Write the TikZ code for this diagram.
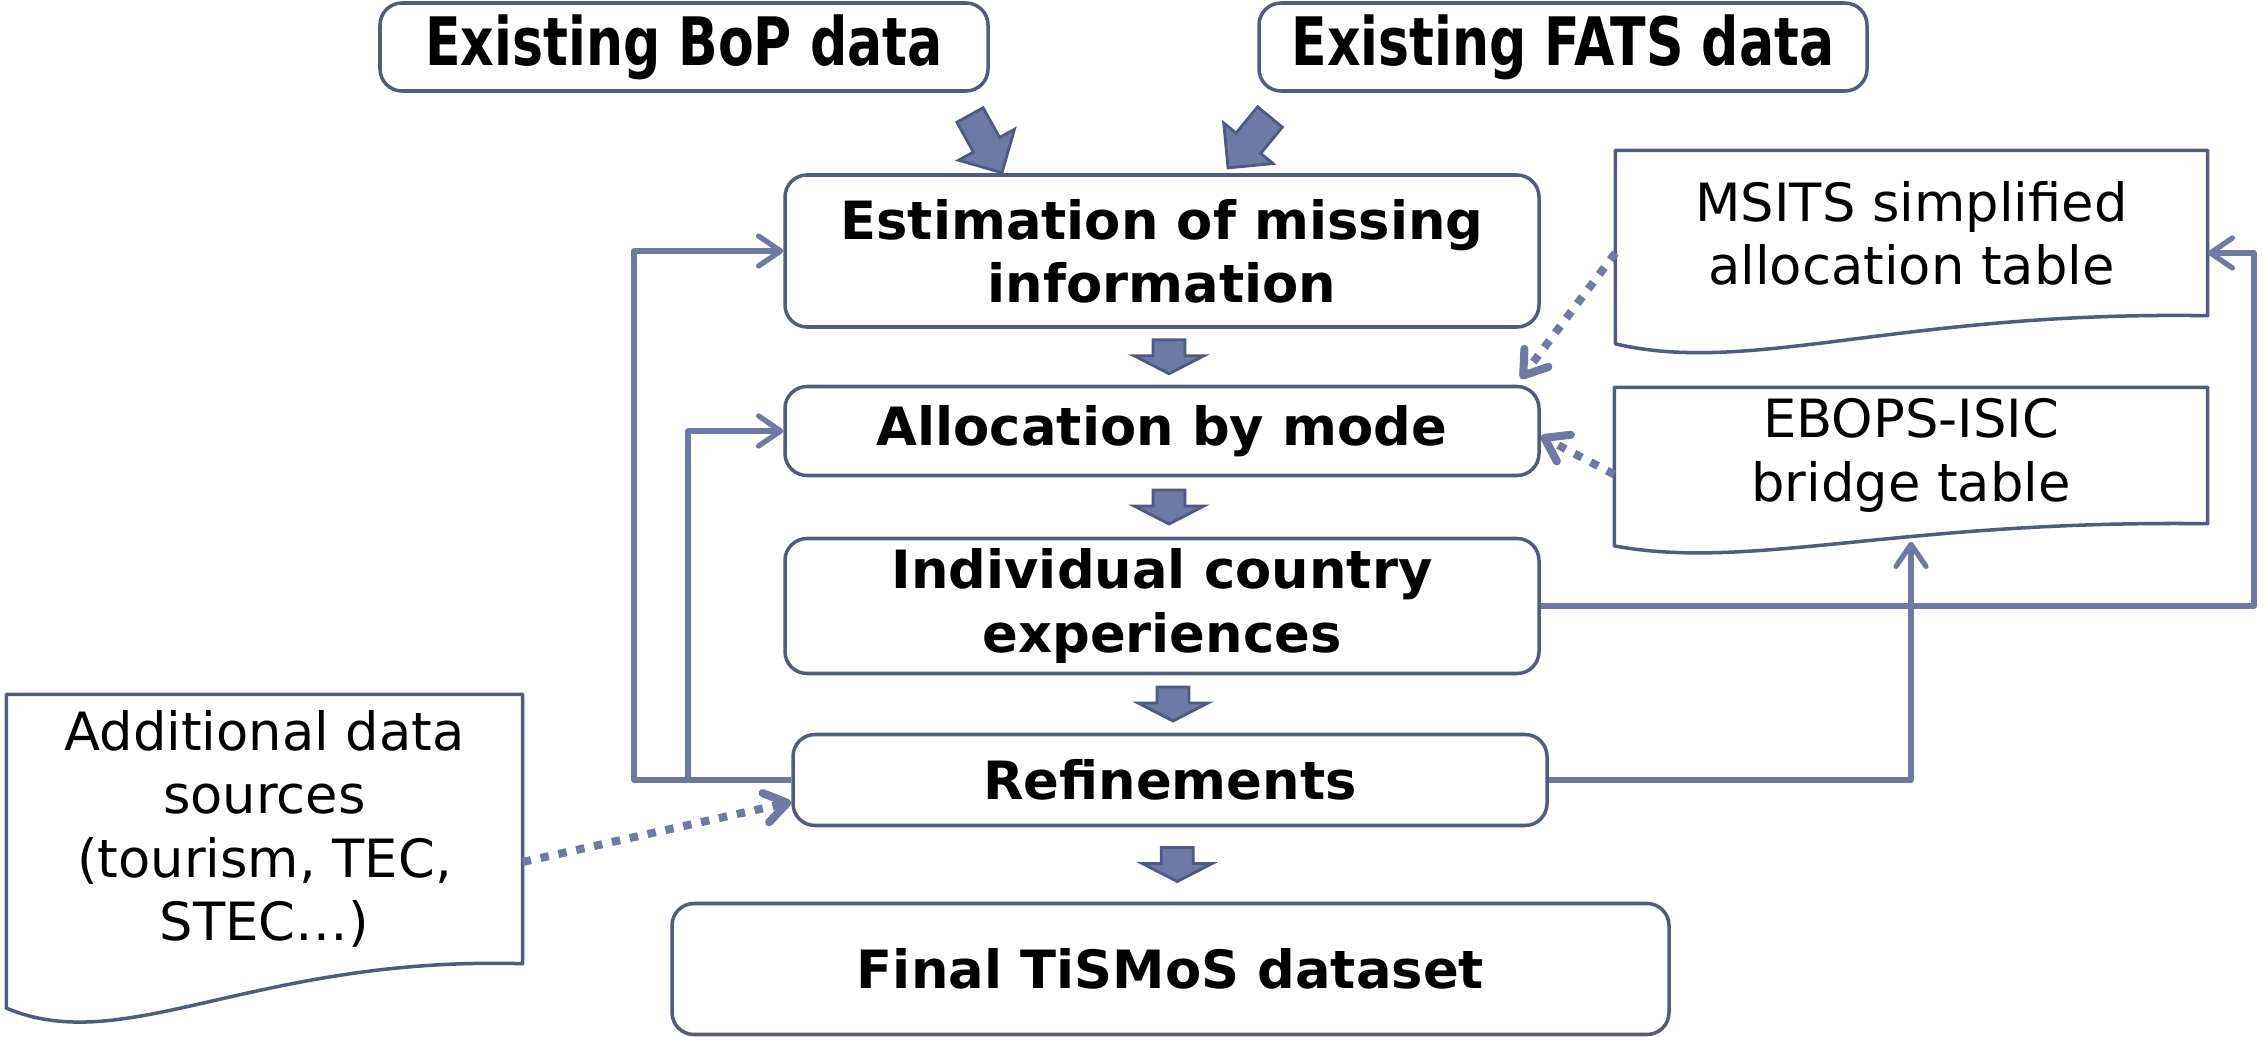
\documentclass[tikz,border=0pt]{standalone}
\usepackage{fontspec}
\setmainfont{DejaVu Sans}
\newfontfamily\topfont{DejaVu Sans}[FakeStretch=0.78]
\usetikzlibrary{arrows.meta,calc}

\definecolor{boxline}{HTML}{525C7E}
\definecolor{linkblue}{HTML}{7079A3}
\definecolor{arrowfill}{HTML}{6E7AA3}
\definecolor{arrowedge}{HTML}{4F5A80}

\tikzset{
  stepbox/.style={draw=boxline, line width=1pt, rounded corners=0.22cm, align=center,
    inner sep=0pt, font=\bfseries\fontsize{15}{18}\selectfont},
  topbox/.style={stepbox, font=\topfont\bfseries\fontsize{19}{22}\selectfont},
  docbox/.style={align=center, inner sep=0pt, font=\fontsize{15}{18}\selectfont},
  docline/.style={draw=boxline, line width=1pt, line join=round},
  link/.style={draw=linkblue, line width=1.5pt, line join=round,
    -{Straight Barb[length=0.22cm,width=0.3cm,round]}},
  dotlink/.style={link, line width=2.3pt, dash pattern=on 2.4pt off 2.8pt},
  blockarrow/.style={fill=arrowfill, draw=arrowedge, line width=0.8pt}
}

% tail centre, direction, shaft length, head length, shaft half width, head half width
\newcommand{\blockarrow}[6]{%
  \draw[blockarrow, shift={(#1)}, rotate=#2] (0,-#5) -- (#3,-#5) -- (#3,-#6)
    -- ({#3+#4},0) -- (#3,#6) -- (#3,#5) -- (0,#5) -- cycle;}
\newcommand{\gaparrow}[2]{%
  \blockarrow{$(#1.south)!0.5!(#2.north)+(0.07,0.17)$}{-90}{0.16}{0.18}{0.16}{0.35}}
% document outline with a wavy lower edge
\newcommand{\docshape}[2]{%
  \draw[docline] (#1.north west) -- (#1.north east) -- (#1.south east)
    .. controls ($(#1.south west)!0.48!(#1.south east)+(0,0.13*#2)$)
    and ($(#1.south west)!0.23!(#1.south east)+(0,-1.58*#2)$)
    .. ($(#1.south west)+(0,-0.74*#2)$) -- cycle;}

\begin{document}
\begin{tikzpicture}
  \useasboundingbox (0,0) rectangle (22.66,-10.37);

  % inputs
  \node[topbox, minimum width=6.08cm, minimum height=0.88cm] (bop) at (6.84,-0.47) {Existing BoP data};
  \node[topbox, minimum width=6.08cm, minimum height=0.88cm] (fats) at (15.63,-0.47) {Existing FATS data};

  % main steps
  \node[stepbox, minimum width=7.54cm, minimum height=1.52cm] (est) at (11.62,-2.51) {Estimation of missing\\information};
  \node[stepbox, minimum width=7.54cm, minimum height=0.89cm] (alloc) at (11.62,-4.31) {Allocation by mode};
  \node[stepbox, minimum width=7.54cm, minimum height=1.35cm] (indiv) at (11.62,-6.06) {Individual country\\experiences};
  \node[stepbox, minimum width=7.54cm, minimum height=0.91cm] (refine) at (11.70,-7.80) {Refinements};
  \node[stepbox, minimum width=9.97cm, minimum height=1.31cm] (final) at (11.705,-9.69) {Final TiSMoS dataset};

  % tables and sources
  \node[docbox, minimum width=5.91cm, minimum height=1.64cm] (msits) at (19.115,-2.33) {MSITS simplified\\allocation table};
  \docshape{msits}{0.38}
  \node[docbox, minimum width=5.92cm, minimum height=1.35cm] (ebops) at (19.11,-4.555) {EBOPS-ISIC\\bridge table};
  \docshape{ebops}{0.30}
  \node[docbox, minimum width=5.15cm, minimum height=2.68cm] (addl) at (2.645,-8.29) {Additional data\\sources\\(tourism, TEC,\\STEC…)};
  \docshape{addl}{0.60}

  % flow arrows
  \blockarrow{9.70,-1.15}{-61}{0.34}{0.32}{0.15}{0.32}
  \blockarrow{12.70,-1.17}{-129.5}{0.34}{0.32}{0.16}{0.32}
  \gaparrow{est}{alloc}
  \gaparrow{alloc}{indiv}
  \gaparrow{indiv}{refine}
  \gaparrow{refine}{final}

  % feedback loops
  \coordinate (loopL) at (6.34,-7.80);
  \coordinate (loopM) at (6.88,-7.80);
  \coordinate (loopR) at (22.54,-6.06);
  \draw[link] (refine.west) -- (loopL) |- (est.west);
  \draw[link] (loopM) |- (alloc.west);
  \draw[link] (indiv.east) -- (loopR) |- ([yshift=-0.2cm]msits.east);
  \draw[link] (refine.east) -| ([yshift=-0.18cm]ebops.south);

  % dotted inputs
  \draw[dotlink] ([yshift=-0.2cm]msits.west) -- ([xshift=-0.2cm,yshift=0.06cm]alloc.north east);
  \draw[dotlink] ([yshift=-0.19cm]ebops.west) -- ([yshift=-0.05cm]alloc.east);
  \draw[dotlink] ([yshift=-0.33cm]addl.east) -- ([yshift=-0.22cm]refine.west);
\end{tikzpicture}
\end{document}
